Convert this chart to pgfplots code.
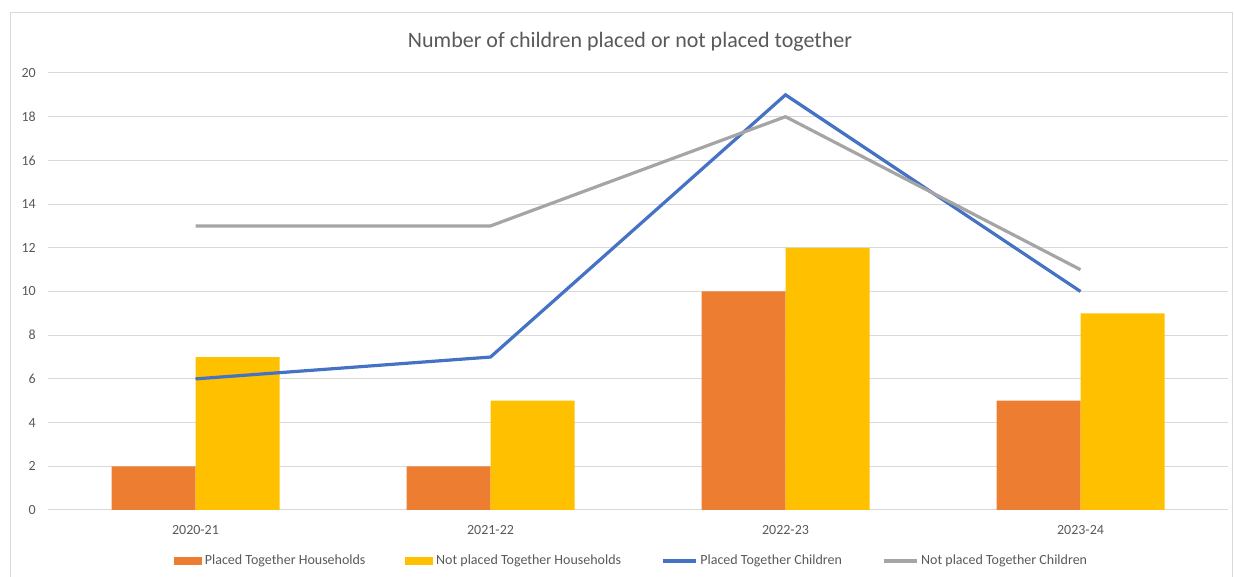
\documentclass[border=0pt]{standalone}
\usepackage{fontspec}
\setmainfont{Carlito}
\usepackage{pgfplots}
\pgfplotsset{compat=1.18}
\definecolor{corange}{HTML}{ED7D31}
\definecolor{cyellow}{HTML}{FFC000}
\definecolor{cblue}{HTML}{4472C4}
\definecolor{cgray}{HTML}{A5A5A5}
\definecolor{gridc}{HTML}{D9D9D9}
\definecolor{txt}{HTML}{595959}
\begin{document}
\begin{tikzpicture}
\path[use as bounding box] (0,0) rectangle (925.5pt,432.75pt);
\draw[gridc, line width=0.75pt] (7.5pt,-5pt) rectangle (924pt,423pt);
\node[text=txt, font=\fontsize{16.5}{19}\selectfont] at (472.5pt,401.25pt) {Number of children placed or not placed together};
\begin{axis}[
  at={(36pt,50.25pt)}, anchor=south west,
  scale only axis, width=885pt, height=327.75pt,
  xmin=-0.5, xmax=3.5, ymin=0, ymax=20,
  xtick={0,1,2,3}, xticklabels={2020-21,2021-22,2022-23,2023-24},
  ytick={0,2,...,20},
  major tick length=0pt,
  axis line style={draw=none},
  ymajorgrids, grid style={gridc, line width=0.75pt},
  /pgf/number format/assume math mode=true,
  tick label style={text=txt, font=\fontsize{10.5}{12}\selectfont},
  yticklabel style={inner sep=0pt, anchor=east, xshift=-9pt},
  xticklabel style={inner sep=0pt, anchor=north, yshift=-11.5pt},
  legend columns=4,
  legend style={draw=none, fill=none, at={(0.4949,-0.1167)}, anchor=center,
    font=\fontsize{10.5}{12}\selectfont, text=txt,
    /tikz/every even column/.append style={column sep=28pt}},
]
\addplot[ybar, bar width=63pt, bar shift=-31.5pt, fill=corange, draw=none,
  legend image code/.code={\fill[corange] (0pt,-3pt) rectangle (21pt,3pt);}]
  coordinates {(0,2) (1,2) (2,10) (3,5)};
\addlegendentry{Placed Together Households}
\addplot[ybar, bar width=63pt, bar shift=31.5pt, fill=cyellow, draw=none,
  legend image code/.code={\fill[cyellow] (0pt,-3pt) rectangle (21pt,3pt);}]
  coordinates {(0,7) (1,5) (2,12) (3,9)};
\addlegendentry{Not placed Together Households}
\addplot[cblue, line width=2.4pt, mark=none,
  legend image code/.code={\draw[cblue, line width=2.4pt] (0pt,0pt) -- (25pt,0pt);}]
  coordinates {(0,6) (1,7) (2,19) (3,10)};
\addlegendentry{Placed Together Children}
\addplot[cgray, line width=2.4pt, mark=none,
  legend image code/.code={\draw[cgray, line width=2.4pt] (0pt,0pt) -- (25pt,0pt);}]
  coordinates {(0,13) (1,13) (2,18) (3,11)};
\addlegendentry{Not placed Together Children}
\end{axis}
\end{tikzpicture}
\end{document}
